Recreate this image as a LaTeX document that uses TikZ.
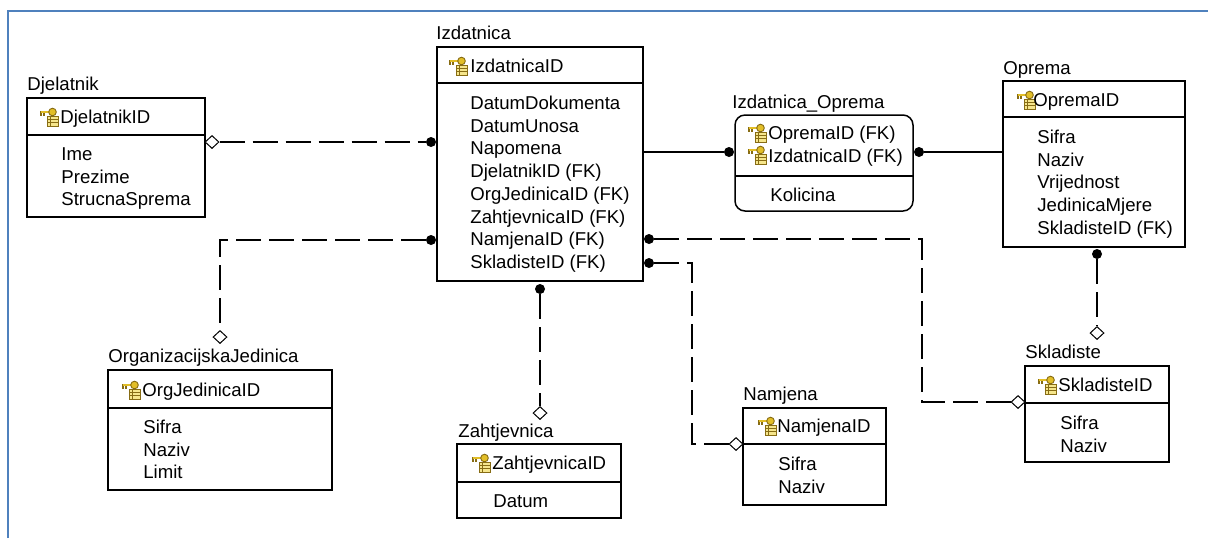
\documentclass[tikz,border=0pt]{standalone}
\usepackage{fontspec}
\setmainfont{Liberation Sans}
\usetikzlibrary{calc,fit,shapes.geometric}
\definecolor{framecol}{RGB}{79,129,189}
\definecolor{keyfill}{RGB}{226,190,40}
\definecolor{keyline}{RGB}{135,108,20}
\definecolor{tabfill}{RGB}{246,230,140}
\tikzset{
    tbl/.style={draw, line width=0.75pt, inner sep=0pt},
    sep/.style={line width=0.75pt},
    ttl/.style={anchor=base west, inner sep=0pt},
    attr/.style={anchor=base west, align=left, inner sep=0pt},
    fkdot/.style={circle, fill=black, inner sep=0pt, minimum size=5pt},
    fkdia/.style={diamond, draw, fill=white, line width=0.5pt, inner sep=0pt, minimum width=7pt, minimum height=6.5pt},
    rel/.style={line width=0.6pt, dash pattern=on 12.5pt off 4pt},
    idf/.style={line width=0.6pt},
    pk/.pic={
        \filldraw[fill=tabfill, draw=keyline, line width=0.35pt] (7,-1) rectangle (18,9);
        \draw[keyline, line width=0.35pt] (7,2.5) -- (18,2.5) (7,5.5) -- (18,5.5) (10,-1) -- (10,9);
        \draw[keyline, line width=1.4pt] (0,-5) -- (9,-5);
        \draw[keyline, line width=0.8pt] (1,-5) -- (1,-1.5) (4,-5) -- (4,-1.5);
        \draw[keyfill, line width=0.6pt] (0.5,-5) -- (9,-5);
        \filldraw[fill=keyfill, draw=keyline, line width=0.45pt] (12.5,-5) circle (1.9pt);
    }
}
\begin{document}
\begin{tikzpicture}[x=0.5pt, y=-0.5pt, font=\fontsize{9.3}{11.35}\selectfont]
        \useasboundingbox (0,0) rectangle (1208,538);
        \draw[framecol, line width=1.3pt] (8,538) -- (8,11) -- (1208,11);

        \node[ttl] at (27,90) {Djelatnik};
        \node[tbl, fit={(27,98) (205,217)}] (dj) {};
        \draw[sep] (27,135) -- (205,135);
        \pic at (40,117) {pk};
        \node[attr] at (60,123.5) {DjelatnikID};
        \node[attr] at (61,205.9) {Ime\\Prezime\\StrucnaSprema};

        \node[ttl] at (436,39) {Izdatnica};
        \node[tbl, fit={(437,47) (643,281)}] (izd) {};
        \draw[sep] (437,83) -- (643,83);
        \pic at (449,66) {pk};
        \node[attr] at (470,72) {IzdatnicaID};
        \node[attr] at (470,268.4) {DatumDokumenta\\DatumUnosa\\Napomena\\DjelatnikID (FK)\\OrgJedinicaID (FK)\\ZahtjevnicaID (FK)\\NamjenaID (FK)\\SkladisteID (FK)};

        \node[ttl] at (732,108) {Izdatnica\_Oprema};
        \node[tbl, rounded corners=5pt, fit={(735,115) (913,211)}] (io) {};
        \draw[sep] (735,176) -- (913,176);
        \pic at (748,133) {pk};
        \pic at (748,155) {pk};
        \node[attr] at (768,162.2) {OpremaID (FK)\\IzdatnicaID (FK)};
        \node[attr] at (770,201.5) {Kolicina};

        \node[ttl] at (1003,74) {Oprema};
        \node[tbl, fit={(1003,81) (1185,247)}] (op) {};
        \draw[sep] (1003,117) -- (1185,117);
        \pic at (1017,100) {pk};
        \node[attr] at (1033,106.5) {OpremaID};
        \node[attr] at (1037,234.3) {Sifra\\Naziv\\Vrijednost\\JedinicaMjere\\SkladisteID (FK)};

        \node[ttl] at (1025,358) {Skladiste};
        \node[tbl, fit={(1025,366) (1169,462)}] (sk) {};
        \draw[sep] (1025,403) -- (1169,403);
        \pic at (1038,385) {pk};
        \node[attr] at (1058,391.5) {SkladisteID};
        \node[attr] at (1060,452.2) {Sifra\\Naziv};

        \node[ttl] at (743,400) {Namjena};
        \node[tbl, fit={(743,408) (886,505)}] (na) {};
        \draw[sep] (743,444) -- (886,444);
        \pic at (758,426) {pk};
        \node[attr] at (777,432.5) {NamjenaID};
        \node[attr] at (778,493.2) {Sifra\\Naziv};

        \node[ttl] at (458,437) {Zahtjevnica};
        \node[tbl, fit={(457,444) (621,518)}] (za) {};
        \draw[sep] (457,482) -- (621,482);
        \pic at (472,463) {pk};
        \node[attr] at (492,469.5) {ZahtjevnicaID};
        \node[attr] at (493,507.5) {Datum};

        \node[ttl] at (108,362) {OrganizacijskaJedinica};
        \node[tbl, fit={(108,370) (332,490)}] (oj) {};
        \draw[sep] (108,408) -- (332,408);
        \pic at (122,390) {pk};
        \node[attr] at (142,396.5) {OrgJedinicaID};
        \node[attr] at (143,478.9) {Sifra\\Naziv\\Limit};

        \node[fkdot] (dotDj) at (431,142) {};
        \node[fkdia] (diaDj) at (212,142) {};
        \draw[rel] (diaDj) -- (dotDj);

        \node[fkdot] (dotOJ) at (431,240) {};
        \node[fkdia] (diaOJ) at (220,337) {};
        \draw[rel] (dotOJ) -| (diaOJ);

        \node[fkdot] (dotZa) at (540,289) {};
        \node[fkdia] (diaZa) at (540,413) {};
        \draw[rel] (dotZa) -- (diaZa);

        \node[fkdot] (dotNa) at (649,263) {};
        \node[fkdia] (diaNa) at (736,444) {};
        \coordinate (bendNa) at (692,263);
        \draw[rel] (dotNa) -- (bendNa) |- (diaNa);

        \node[fkdot] (dotSk) at (649,239) {};
        \node[fkdia] (diaSk) at (1018,402) {};
        \coordinate (bendSk) at (922,239);
        \draw[rel] (dotSk) -- (bendSk) |- (diaSk);

        \node[fkdot] (dotOS) at (1097,254) {};
        \node[fkdia] (diaOS) at (1097,333) {};
        \draw[rel] (dotOS) -- (diaOS);

        \node[fkdot] (dotIO1) at (729,152) {};
        \node[fkdot] (dotIO2) at (919,152) {};
        \draw[idf] (izd.east |- dotIO1) -- (dotIO1);
        \draw[idf] (dotIO2) -- (op.west |- dotIO2);
    \end{tikzpicture}
\end{document}
